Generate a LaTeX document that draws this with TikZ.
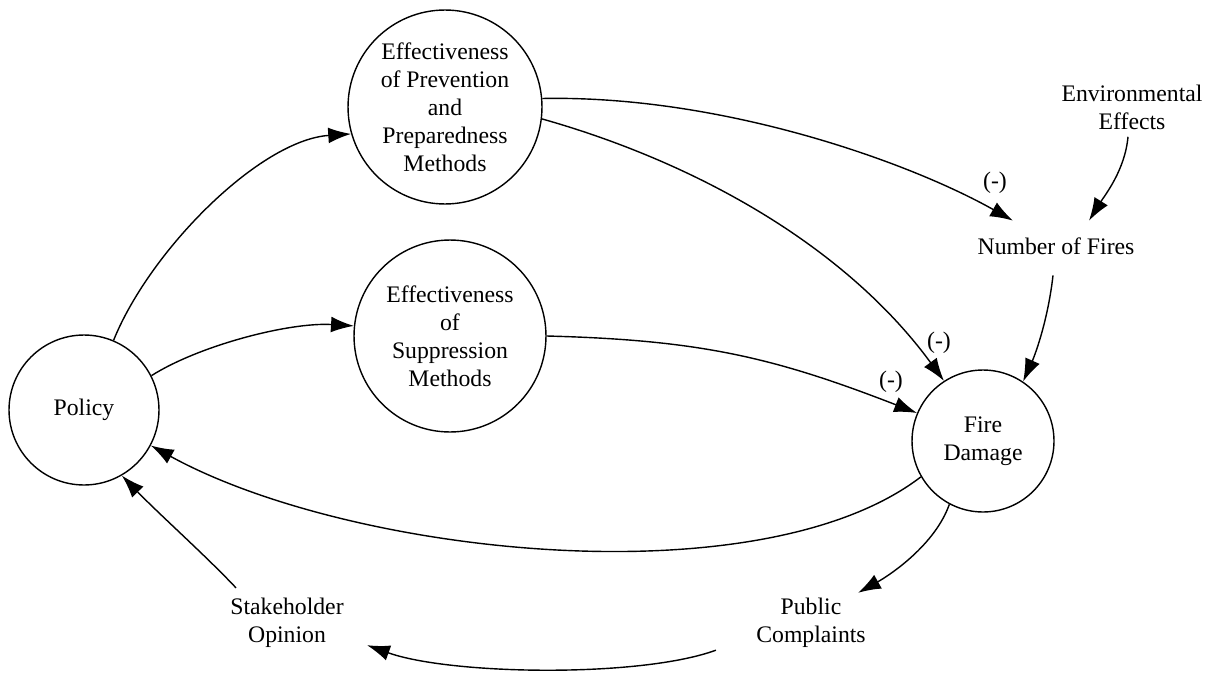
\documentclass[tikz,border=0pt]{standalone}
\usepackage{fontspec}
\setmainfont{Liberation Serif}
\usetikzlibrary{arrows.meta,calc}
\begin{document}
\begin{tikzpicture}[x=0.02cm,y=-0.02cm, font=\fontsize{13.5}{16}\selectfont,
  circ/.style={draw, circle, line width=0.8pt, inner sep=0pt, align=center},
  lbl/.style={align=center, inner sep=0pt},
  link/.style={line width=0.8pt, -{Latex[length=13pt,width=9pt]}},
  sign/.style={inner sep=0pt}]
\useasboundingbox (0,0) rectangle (1213,676);

\node[circ, minimum size=3cm] (pol) at (84,410) {Policy};
\node[circ, minimum size=3.88cm] (prev) at (445,107) {Effectiveness\\of Prevention\\and\\Preparedness\\Methods};
\node[circ, minimum size=3.84cm] (supp) at (450,336) {Effectiveness\\of\\Suppression\\Methods};
\node[circ, minimum size=2.84cm] (fire) at (983,441) {Fire\\Damage};
\node[lbl, minimum height=1cm] (nof) at (1056,246) {Number of Fires};
\node[lbl] (env) at (1132,107) {Environmental\\Effects};
\node[lbl] (pc) at (811,623) {Public\\Complaints};
\node[lbl] (so) at (287,623) {Stakeholder\\Opinion};

\draw[link] (pol.67) .. controls (150,250) and (260,140) .. (prev.196);
\draw[link] (pol.27) .. controls (200,345) and (290,322) .. (supp.174);
\draw[link] (prev.5) .. controls (720,95) and (907,161) .. ($(nof.north)+(-43,0)$);
\draw[link] (prev.-7) .. controls (698,163) and (846,247) .. (fire.123);
\draw[link] (supp.0) .. controls (700,340) and (773,357) .. (fire.157);
\draw[link] ($(env.south)+(-4,7)$) .. controls (1125,170) and (1105,195) .. ($(nof.north)+(33,0)$);
\draw[link] ($(nof.south)+(-3,4)$) .. controls (1048,320) and (1035,355) .. (fire.56);
\draw[link] (fire.210) .. controls (760,600) and (350,555) .. (pol.-28);
\draw[link] (fire.242) .. controls (935,545) and (890,575) .. ($(pc.north)+(47,-5)$);
\draw[link] ($(pc.south west)+(-40,2)$) .. controls (640,678) and (450,675) .. ($(so.south east)+(23,-3)$);
\draw[link] ($(so.north west)+(6,-10)$) .. controls (205,555) and (160,515) .. (pol.-60);

\node[sign] (s1) at (995,183) {(-)};
\node[sign] (s2) at (939,343) {(-)};
\node[sign] (s3) at (891,382) {(-)};
\end{tikzpicture}
\end{document}
